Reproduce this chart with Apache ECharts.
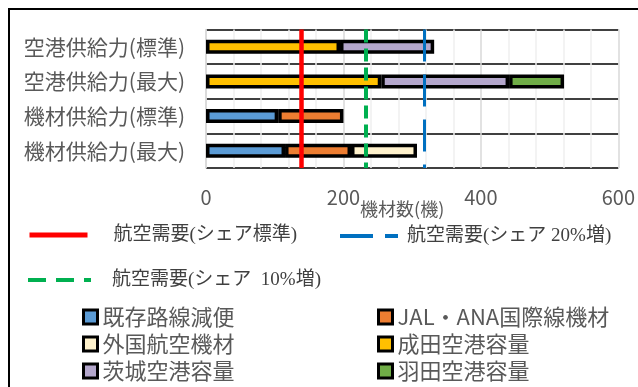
<!DOCTYPE html>
<html>
<head>
<meta charset="utf-8">
<script src="https://cdn.jsdelivr.net/npm/echarts@6/dist/echarts.min.js"></script>
<style>
  html, body { margin: 0; padding: 0; background: #fff; }
  #main { width: 638px; height: 387px; }
</style>
</head>
<body>
<div id="main"></div>
<script>
// カテゴリ（上から順）
const categories = ["空港供給力(標準)", "空港供給力(最大)", "機材供給力(標準)", "機材供給力(最大)"];

// 積み上げ棒
const kizonRosen = [null, null, 105, 115];   // 既存路線減便
const jalAna = [null, null, 95, 96];         // JAL・ANA国際線機材
const gaikoku = [null, null, null, 96];      // 外国航空機材
const narita = [195, 255, null, null];       // 成田空港容量
const ibaraki = [137, 186, null, null];      // 茨城空港容量
const haneda = [null, 80, null, null];       // 羽田空港容量

// 航空需要（縦線）
const demandStd = 138;
const demand10 = 232;
const demand20 = 318;

const xTicks = [0, 200, 400, 600];

const sans = '"Noto Sans CJK JP", "Noto Sans", sans-serif';
const serif = '"Liberation Serif", "Noto Sans CJK JP", serif';

let myChart = echarts.init(document.getElementById("main"));

function barSeries(name, color, data) {
  return {
    name: name,
    type: "bar",
    stack: "total",
    barWidth: 14,
    data: data,
    itemStyle: { color: color, borderColor: "#000", borderWidth: 3.5 }
  };
}

function demandSeries(name, color, value, width, dash) {
  return {
    name: name,
    type: "line",
    data: [],
    symbol: "none",
    z: 5,
    itemStyle: { color: color },
    lineStyle: { color: color, width: width, type: dash },
    markLine: {
      silent: true,
      symbol: "none",
      label: { show: false },
      lineStyle: { color: color, width: width, type: dash },
      data: [{ xAxis: value }]
    }
  };
}

function barLegend(name, left, top) {
  return {
    data: [name],
    left: left,
    top: top,
    padding: 0,
    itemWidth: 14,
    itemHeight: 14,
    icon: "rect",
    itemStyle: { borderColor: "#000", borderWidth: 3 },
    textStyle: { fontFamily: sans, fontSize: 22, color: "#595959", lineHeight: 26 }
  };
}

function lineLegend(name, left, top, w, pad, color, width, dash) {
  return {
    data: [name],
    left: left,
    top: top,
    padding: 0,
    itemWidth: w,
    itemHeight: 14,
    itemStyle: { opacity: 0 },
    lineStyle: { color: color, width: width, type: dash },
    textStyle: { fontFamily: serif, fontSize: 19, color: "#404040", lineHeight: 22, padding: [0, 0, 0, pad] }
  };
}

myChart.setOption({
  animation: false,
  grid: { left: 206, right: 18, top: 29.5, bottom: 219 },
  xAxis: {
    type: "value",
    min: xTicks[0],
    max: xTicks[xTicks.length - 1],
    interval: 200,
    name: "機材数(機)",
    nameLocation: "middle",
    nameGap: 32,
    nameMoveOverlap: false,
    nameTextStyle: { fontFamily: sans, fontSize: 18, color: "#595959", padding: [0, 20, 0, 0] },
    axisLine: { show: false },
    axisTick: { show: false },
    axisLabel: { fontFamily: sans, fontSize: 20, color: "#595959", margin: 19 },
    splitLine: { lineStyle: { color: "#D9D9D9", width: 1.5 } },
    minorTick: { show: false, splitNumber: 5 },
    minorSplitLine: { show: true, lineStyle: { color: "#F0F0F0", width: 1.5 } }
  },
  yAxis: {
    type: "category",
    inverse: true,
    data: categories,
    axisLine: { lineStyle: { color: "#D9D9D9", width: 1.5 } },
    axisTick: { show: false },
    axisLabel: { fontFamily: sans, fontSize: 21, color: "#595959", margin: 21 },
    splitLine: { show: true, lineStyle: { color: "#000", width: 1.5 } }
  },
  legend: [
    lineLegend("航空需要(シェア標準)", 27, 224, 58, 21, "#FF0000", 5, "solid"),
    lineLegend("航空需要(シェア 20%増)", 338, 225, 58, 4, "#0070C0", 4, [33, 12]),
    lineLegend("航空需要(シェア  10%増)", 26, 269, 63, 16, "#00B050", 4, [18, 10]),
    barLegend("既存路線減便", 82, 304),
    barLegend("JAL・ANA国際線機材", 377, 304),
    barLegend("外国航空機材", 82, 331),
    barLegend("成田空港容量", 377, 331),
    barLegend("茨城空港容量", 82, 358),
    barLegend("羽田空港容量", 377, 358)
  ],
  graphic: [
    {
      type: "rect",
      silent: true,
      shape: { x: 9, y: 9, width: 700, height: 500 },
      style: { fill: "none", stroke: "#000", lineWidth: 2 }
    }
  ],
  series: [
    barSeries("既存路線減便", "#5B9BD5", kizonRosen),
    barSeries("JAL・ANA国際線機材", "#ED7D31", jalAna),
    barSeries("外国航空機材", "#FFF2CC", gaikoku),
    barSeries("成田空港容量", "#FFC000", narita),
    barSeries("茨城空港容量", "#B4A7CC", ibaraki),
    barSeries("羽田空港容量", "#70AD47", haneda),
    demandSeries("航空需要(シェア標準)", "#FF0000", demandStd, 4.5, "solid"),
    demandSeries("航空需要(シェア 20%増)", "#0070C0", demand20, 3, [32, 13]),
    demandSeries("航空需要(シェア  10%増)", "#00B050", demand10, 4, [13, 6])
  ]
});
</script>
</body>
</html>
